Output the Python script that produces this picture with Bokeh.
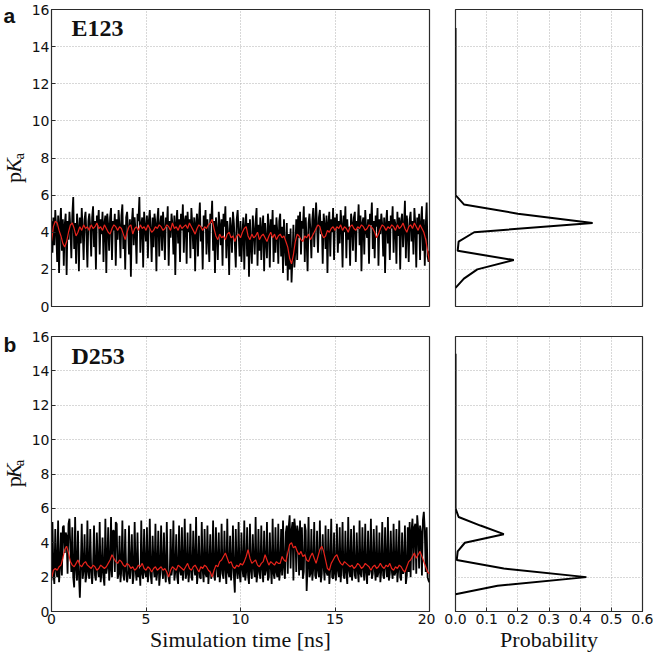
import numpy as np
from bokeh.plotting import figure
from bokeh.models import Range1d, FixedTicker, Label, NumeralTickFormatter
from bokeh.layouts import column, row
from bokeh.embed import file_html
from bokeh.resources import INLINE
from bokeh.core.properties import value

# ---------------- data ----------------
residues = ["E123", "D253"]
panel_letters = ["a", "b"]
time_ticks = [0, 5, 10, 15, 20]
pka_ticks = [0, 2, 4, 6, 8, 10, 12, 14, 16]
prob_ticks = [0.0, 0.1, 0.2, 0.3, 0.4, 0.5, 0.6]

time_step_ns = 0.05  # sampling of the raw pKa trace
e123_pka = [
    4.6, 2.9, 4.8, 3.3, 5.2, 4.1, 2.4, 4.9, 1.8, 4.5, 5.3, 3.0, 4.7, 2.2, 4.4, 5.0, 1.7, 4.6, 3.6, 5.1,
    4.2, 2.6, 4.9, 5.9, 3.1, 4.5, 2.3, 5.0, 4.3, 1.9, 4.8, 3.4, 5.3, 4.1, 2.5, 4.7, 5.1, 3.8, 2.1, 4.6,
    5.0, 4.3, 2.7, 4.8, 5.4, 3.2, 4.6, 2.0, 4.9, 4.4, 5.2, 2.8, 4.7, 3.9, 5.1, 2.4, 4.5, 4.9, 1.8, 5.0,
    4.4, 3.0, 4.8, 5.3, 2.5, 4.6, 4.1, 5.0, 2.2, 4.7, 3.6, 5.2, 4.3, 2.6, 4.9, 5.5, 3.1, 4.4, 2.0, 4.8,
    5.1, 4.2, 2.8, 4.7, 1.6, 4.5, 5.3, 3.3, 4.8, 4.0, 2.3, 5.0, 4.6, 5.9, 2.9, 4.4, 4.8, 2.1, 5.1, 4.3,
    3.5, 4.9, 2.6, 4.6, 5.2, 4.1, 2.4, 4.8, 3.2, 5.0, 4.5, 1.9, 4.7, 5.3, 2.7, 4.4, 4.9, 3.0, 5.1, 4.2,
    2.5, 4.8, 4.3, 5.4, 2.2, 4.6, 3.7, 5.0, 4.4, 2.8, 4.9, 1.7, 4.5, 5.2, 3.4, 4.7, 2.4, 5.0, 4.1, 5.5,
    2.9, 4.6, 4.9, 2.3, 5.1, 4.0, 4.7, 2.6, 5.3, 4.4, 3.1, 4.8, 1.9, 4.5, 5.0, 2.7, 4.6, 5.6, 3.5, 4.3,
    2.0, 4.9, 4.2, 5.2, 2.8, 4.7, 3.8, 2.4, 5.0, 4.5, 5.7, 3.0, 4.6, 1.8, 4.8, 4.1, 2.5, 5.1, 4.4, 3.3,
    4.7, 2.2, 5.0, 4.3, 5.4, 2.6, 4.6, 3.9, 1.7, 4.8, 4.2, 2.9, 5.1, 4.5, 3.4, 2.1, 4.7, 5.2, 4.0, 2.7,
    4.6, 2.4, 3.9, 4.8, 2.0, 4.3, 5.0, 2.7, 4.5, 1.6, 4.7, 3.3, 2.3, 4.9, 4.1, 2.8, 4.6, 5.3, 2.2, 4.4,
    3.0, 4.8, 2.5, 4.2, 4.9, 1.9, 4.5, 3.6, 2.6, 5.0, 4.3, 2.1, 4.7, 3.8, 5.2, 2.4, 4.4, 2.9, 4.8, 4.0,
    2.3, 4.6, 5.0, 2.7, 4.3, 1.8, 4.7, 3.2, 2.2, 4.5, 1.4, 3.9, 2.0, 4.2, 1.3, 2.6, 4.4, 2.1, 3.0, 4.7,
    2.5, 4.9, 3.7, 5.1, 2.8, 4.6, 4.2, 5.4, 2.4, 4.8, 3.5, 1.9, 4.5, 5.0, 4.1, 2.6, 4.7, 5.3, 3.2, 4.4,
    5.6, 4.3, 2.9, 4.8, 5.2, 3.9, 4.6, 2.3, 5.0, 4.4, 3.1, 4.9, 1.8, 4.5, 5.1, 2.7, 4.7, 4.0, 5.3, 2.5,
    4.8, 4.2, 5.0, 2.9, 4.6, 3.4, 5.2, 4.4, 2.1, 4.9, 4.0, 5.4, 2.6, 4.7, 3.6, 4.3, 2.2, 5.0, 4.5, 3.0,
    4.8, 5.1, 2.4, 4.6, 4.2, 5.5, 3.3, 4.9, 1.9, 4.5, 4.8, 2.8, 5.2, 4.1, 3.7, 4.7, 2.3, 5.0, 4.4, 5.6,
    3.1, 4.6, 2.6, 4.9, 4.3, 5.3, 2.2, 4.7, 3.9, 5.0, 4.4, 2.7, 4.8, 1.8, 4.5, 5.2, 3.4, 4.6, 2.5, 4.9,
    4.2, 5.4, 2.9, 4.7, 4.4, 2.3, 5.1, 3.8, 4.8, 2.0, 4.6, 5.0, 3.2, 4.3, 5.7, 2.6, 4.9, 4.1, 2.4, 4.7,
    5.1, 3.5, 4.6, 2.8, 5.3, 4.4, 2.1, 4.8, 3.9, 5.0, 2.5, 4.5, 5.4, 3.0, 4.7, 2.2, 4.3, 5.6, 2.7, 2.4,
    3.0,
]
d253_pka = [
    1.8, 5.2, 2.3, 1.6, 4.8, 2.5, 2.0, 5.3, 1.7, 2.6, 4.6, 2.1, 4.9, 5.0, 3.4, 4.6, 4.4, 2.2, 5.1, 5.4,
    3.6, 2.3, 4.9, 2.0, 1.4, 5.5, 2.5, 1.8, 4.7, 2.2, 0.8, 2.6, 5.1, 1.9, 2.4, 4.5, 1.7, 2.1, 5.3, 2.3,
    1.9, 4.8, 2.4, 1.6, 2.7, 5.0, 2.1, 1.8, 4.6, 2.5, 2.0, 5.2, 1.7, 2.3, 4.3, 2.0, 1.5, 5.4, 2.2, 2.6,
    4.9, 1.8, 2.4, 5.5, 2.0, 4.7, 4.7, 2.3, 5.2, 5.1, 1.9, 2.2, 4.4, 1.7, 2.5, 5.3, 2.1, 1.8, 4.8, 2.4,
    1.7, 2.2, 5.0, 1.9, 2.6, 4.5, 1.6, 2.1, 5.2, 2.4, 1.8, 4.6, 2.0, 2.5, 1.5, 5.3, 2.2, 1.9, 4.8, 2.3,
    2.0, 4.9, 1.7, 2.4, 5.4, 2.1, 1.6, 4.4, 2.6, 2.0, 5.1, 1.8, 2.3, 4.7, 1.5, 2.2, 5.0, 2.5, 1.9, 4.6,
    2.2, 1.7, 5.2, 2.4, 1.9, 1.6, 4.8, 2.1, 2.6, 5.3, 1.8, 2.3, 4.5, 2.0, 1.6, 5.0, 2.4, 2.1, 4.9, 1.8,
    2.5, 5.4, 1.9, 2.2, 4.6, 1.7, 2.4, 5.1, 2.0, 1.8, 4.7, 2.6, 2.1, 5.5, 1.6, 2.3, 4.4, 2.0, 1.9, 5.2,
    2.4, 1.7, 4.8, 2.2, 2.0, 5.0, 1.6, 2.5, 4.5, 1.9, 2.3, 5.3, 2.1, 1.8, 4.9, 2.6, 2.0, 4.6, 1.7, 2.4,
    5.1, 2.2, 1.9, 4.7, 2.5, 1.6, 5.4, 2.3, 2.0, 4.4, 1.8, 2.6, 5.0, 2.1, 1.1, 4.8, 2.4, 1.9, 5.2, 2.2,
    1.7, 4.6, 2.5, 2.0, 5.3, 1.8, 2.3, 4.9, 2.1, 1.6, 5.1, 2.4, 1.9, 4.5, 2.6, 2.0, 5.5, 1.7, 2.2, 4.8,
    2.3, 1.9, 5.0, 2.5, 1.7, 4.7, 2.1, 2.4, 5.2, 1.8, 2.0, 4.6, 2.6, 1.6, 5.4, 2.2, 1.9, 4.9, 2.3, 2.0,
    5.1, 1.8, 2.4, 4.8, 2.1, 5.3, 2.6, 1.9, 4.6, 5.0, 2.2, 4.9, 5.6, 2.5, 4.7, 5.2, 1.8, 5.4, 4.8, 2.3,
    5.0, 4.6, 2.1, 5.3, 2.4, 4.9, 1.9, 2.3, 5.1, 4.7, 1.2, 2.6, 5.5, 2.0, 2.2, 4.8, 1.8, 2.5, 5.2, 2.1,
    1.9, 4.7, 2.4, 2.0, 5.3, 1.7, 2.2, 4.5, 2.6, 1.8, 5.0, 2.3, 2.1, 4.8, 1.6, 2.5, 5.4, 2.0, 1.9, 4.6,
    2.2, 1.8, 5.1, 2.4, 2.0, 4.9, 1.7, 2.6, 5.2, 2.1, 1.9, 4.7, 2.3, 1.6, 5.5, 2.4, 2.0, 4.8, 1.8, 2.5,
    5.0, 2.1, 1.9, 4.6, 2.4, 1.7, 5.3, 2.2, 2.0, 4.9, 2.5, 1.8, 5.1, 2.3, 1.6, 4.7, 2.1, 2.4, 5.4, 1.9,
    2.2, 4.8, 2.5, 1.8, 5.0, 2.0, 2.3, 4.6, 1.7, 2.4, 5.2, 2.1, 1.9, 4.9, 2.6, 2.0, 5.5, 1.8, 2.2, 4.7,
    2.4, 1.9, 5.1, 2.1, 2.3, 4.8, 1.7, 2.5, 5.3, 2.0, 1.8, 4.6, 2.2, 2.4, 5.0, 1.6, 2.1, 4.9, 2.3, 5.2,
    2.0, 4.7, 5.4, 2.4, 4.9, 5.1, 2.2, 5.6, 4.8, 2.5, 5.0, 4.6, 2.1, 5.3, 5.8, 4.7, 2.3, 4.9, 2.0, 1.8,
    1.7,
]

avg_step_ns = 0.1  # sampling of the running average (red)
e123_avg = [
    3.5,
    4.3, 4.6, 4.5, 4.1, 3.8, 3.4, 3.2, 3.5, 4.0, 4.4,
    4.5, 4.2, 3.8, 4.0, 4.3, 4.1, 4.4, 4.2, 4.3, 4.1,
    4.4, 4.2, 4.3, 4.5, 4.2, 4.3, 4.1, 4.4, 4.2, 4.0,
    3.9, 4.2, 4.4, 4.3, 4.1, 4.3, 4.2, 3.9, 3.6, 4.0,
    4.3, 4.4, 3.9, 4.2, 4.3, 4.1, 4.4, 4.2, 4.3, 4.1,
    4.4, 4.2, 4.0, 4.1, 4.3, 4.2, 4.4, 4.3, 4.1, 4.2,
    4.4, 4.3, 4.1, 4.5, 4.2, 4.3, 4.1, 4.4, 4.2, 4.3,
    4.4, 4.2, 4.5, 4.3, 4.1, 3.9, 4.2, 4.4, 4.3, 4.1,
    4.3, 4.2, 4.4, 4.5, 4.7, 4.2, 3.8, 3.6, 3.9, 3.7,
    3.8, 3.6, 3.9, 4.0, 3.7, 3.8, 3.5, 3.8, 3.9, 3.7,
    4.0, 4.2, 4.3, 3.8, 3.6, 3.9, 3.7, 3.8, 4.0, 3.6,
    3.8, 3.9, 3.7, 3.5, 3.8, 4.0, 3.7, 3.9, 3.6, 3.8,
    3.9, 3.7, 3.8, 3.5, 3.2, 2.6, 2.3, 2.8, 3.5, 3.9,
    3.8, 3.6, 3.5, 3.8, 3.7, 3.9, 3.6, 3.8, 4.0, 4.2,
    4.4, 4.3, 3.9, 3.7, 3.8, 4.1, 4.0, 4.2, 4.3, 4.1,
    4.3, 4.2, 4.4, 4.1, 4.3, 4.2, 4.0, 4.3, 4.4, 4.2,
    4.1, 4.3, 4.2, 4.4, 4.3, 4.1, 4.2, 4.4, 4.3, 4.2,
    4.0, 3.7, 3.9, 4.2, 4.4, 4.3, 4.1, 4.3, 4.2, 4.4,
    4.3, 4.1, 4.4, 4.2, 4.3, 4.5, 4.2, 4.0, 4.3, 4.4,
    4.2, 4.5, 4.3, 4.1, 4.4, 4.2, 4.0, 3.6, 3.0, 2.4,
]
d253_avg = [
    1.9,
    2.4, 2.5, 2.4, 2.6, 2.7, 3.1, 3.6, 3.8, 3.4, 2.9,
    2.7, 2.6, 2.8, 3.0, 2.7, 2.6, 2.8, 2.9, 2.7, 2.6,
    2.5, 2.7, 2.6, 2.4, 2.5, 2.7, 2.6, 2.5, 2.6, 2.8,
    3.0, 3.3, 3.1, 2.9, 2.8, 3.0, 2.9, 2.7, 2.6, 2.8,
    2.7, 2.5, 2.6, 2.4, 2.5, 2.7, 2.6, 2.8, 2.5, 2.4,
    2.6, 2.5, 2.3, 2.5, 2.6, 2.4, 2.5, 2.6, 2.4, 2.5,
    2.3, 2.0, 2.4, 2.6, 2.5, 2.4, 2.7, 2.6, 2.5, 2.4,
    2.6, 2.8, 2.5, 2.4, 2.6, 2.7, 2.5, 2.3, 2.6, 2.5,
    2.7, 2.6, 2.4, 2.3, 2.0, 2.4, 2.7, 2.6, 2.9, 3.0,
    3.2, 3.4, 3.1, 2.8, 2.9, 2.6, 2.5, 2.7, 2.6, 2.8,
    2.7, 2.9, 3.2, 3.6, 3.1, 2.8, 2.9, 3.0, 2.7, 2.6,
    2.8, 2.9, 3.3, 3.0, 2.7, 2.9, 2.8, 2.7, 2.9, 2.8,
    2.8, 3.2, 3.0, 2.9, 3.4, 3.9, 4.0, 3.7, 3.8, 3.5,
    3.3, 3.5, 3.2, 3.3, 3.0, 2.9, 3.2, 3.4, 3.1, 2.8,
    3.2, 3.6, 3.8, 3.5, 3.0, 2.5, 2.4, 2.8, 3.0, 3.2,
    3.3, 3.0, 2.8, 2.7, 2.9, 2.8, 2.7, 2.6, 2.7, 2.5,
    2.6, 2.8, 2.7, 2.5, 2.6, 2.8, 2.7, 2.6, 2.4, 2.6,
    2.7, 2.5, 2.6, 2.8, 2.6, 2.5, 2.7, 2.6, 2.8, 2.5,
    2.4, 2.6, 2.5, 2.7, 2.6, 2.4, 2.3, 2.6, 2.9, 3.0,
    3.2, 3.4, 3.1, 3.3, 3.5, 3.2, 2.9, 2.6, 2.3, 2.2,
]

hist_pka = [1.0, 1.5, 2.0, 2.5, 3.0, 3.5, 4.0, 4.5, 5.0, 5.5, 6.0, 15.0]
e123_prob = [0.0, 0.027, 0.07, 0.187, 0.007, 0.01, 0.06, 0.44, 0.2, 0.027, 0.0, 0.0]
d253_prob = [0.0, 0.135, 0.42, 0.155, 0.004, 0.007, 0.03, 0.155, 0.08, 0.01, 0.0, 0.0]

series_raw = [e123_pka, d253_pka]
series_avg = [e123_avg, d253_avg]
series_prob = [e123_prob, d253_prob]

# ---------------- styling / layout ----------------
SANS = "DejaVu Sans"
SERIF = "Liberation Serif"
FRAME = "#2b2b2b"
GRID = "#b0b0b0"
INK = "#111111"

STRIP_W = 28
MAIN_W, HIST_W = 407, 218
MAIN_LEFT, MAIN_RIGHT = 22, 6
HIST_LEFT, HIST_RIGHT = 20, 11
ROW_TOP = [9, 15]
ROW_FRAME_H = [297, 275]
ROW_BOTTOM = [15, 43]
RESIDUE_Y = [14.98, 14.84]          # vertical centre of the residue name (pKa units)
LETTER_DROP = [3.0, 5.0]            # letter centre relative to the frame top (px)


def style_axes(p, show_x, show_y, xticks, yticks):
    p.outline_line_color = FRAME
    p.outline_line_width = 1.2
    p.outline_line_alpha = 1.0
    p.xaxis.ticker = FixedTicker(ticks=xticks)
    p.yaxis.ticker = FixedTicker(ticks=yticks)
    p.xgrid.ticker = FixedTicker(ticks=xticks)
    p.ygrid.ticker = FixedTicker(ticks=yticks)
    for g in (p.xgrid, p.ygrid):
        g.grid_line_color = GRID
        g.grid_line_dash = "1 2"
        g.grid_line_width = 1
    for ax in (p.xaxis, p.yaxis):
        ax.axis_line_color = FRAME
        ax.major_tick_line_color = FRAME
        ax.major_tick_in = 4
        ax.major_tick_out = 0
        ax.minor_tick_in = 0
        ax.minor_tick_out = 0
        ax.major_label_text_font = SANS
        ax.major_label_text_font_size = "14px"
        ax.major_label_text_color = INK
        ax.major_label_standoff = 2
        ax.axis_label_text_font = SERIF
        ax.axis_label_text_font_size = "22px"
        ax.axis_label_text_font_style = "normal"
        ax.axis_label_text_color = INK
        ax.axis_label_standoff = 0
    p.xaxis.visible = show_x
    p.yaxis.visible = show_y


rows = []
for i in range(2):
    fh = ROW_FRAME_H[i]
    H = ROW_TOP[i] + fh + ROW_BOTTOM[i]
    last = i == 1

    # left strip with the panel letter and the rotated y label
    s = figure(width=STRIP_W, height=H, output_backend="svg", toolbar_location=None,
               x_range=Range1d(0, STRIP_W), y_range=Range1d(0, H),
               x_axis_location=None, y_axis_location=None, min_border=0)
    s.outline_line_color = None
    s.grid.visible = False
    s.text(x=[3], y=[H - ROW_TOP[i] + LETTER_DROP[i]], text=[panel_letters[i]],
           text_font=value("Liberation Sans"), text_font_style="bold", text_font_size="21px",
           text_color=INK, text_baseline="middle", text_align="left")
    y_mid = H - ROW_TOP[i] - fh / 2          # frame centre in strip coordinates
    y0 = y_mid - 30
    s.text(x=[12.8], y=[y0], text=["p"], angle=np.pi / 2,
           text_font=value(SERIF), text_font_size="22px", text_color=INK,
           text_baseline="middle", text_align="left")
    s.text(x=[12.8], y=[y0 + 11], text=["K"], angle=np.pi / 2,
           text_font=value(SERIF), text_font_style="italic", text_font_size="22px",
           text_color=INK, text_baseline="middle", text_align="left")
    s.text(x=[18.8], y=[y0 + 25.5], text=["a"], angle=np.pi / 2,
           text_font=value(SERIF), text_font_size="15px", text_color=INK,
           text_baseline="middle", text_align="left")

    # main time-series panel
    p = figure(width=MAIN_W, height=H, output_backend="svg", toolbar_location=None,
               x_range=Range1d(0, 20), y_range=Range1d(0, 16),
               min_border_left=MAIN_LEFT, min_border_right=MAIN_RIGHT,
               min_border_top=ROW_TOP[i], min_border_bottom=ROW_BOTTOM[i])
    style_axes(p, last, True, time_ticks, pka_ticks)
    if last:
        p.xaxis.axis_label = "Simulation time [ns]"
    t_raw = np.arange(len(series_raw[i])) * time_step_ns
    t_avg = np.arange(len(series_avg[i])) * avg_step_ns
    p.line(t_raw, series_raw[i], line_color="black", line_width=1.8)
    p.line(t_avg, series_avg[i], line_color="#e8231b", line_width=1.2)
    p.add_layout(Label(x=1.06, y=RESIDUE_Y[i], text=residues[i],
                       text_font=SERIF, text_font_style="bold", text_font_size="24px",
                       text_color=INK, text_baseline="middle"))

    # probability panel
    h = figure(width=HIST_W, height=H, output_backend="svg", toolbar_location=None,
               x_range=Range1d(0, 0.6), y_range=Range1d(0, 16),
               min_border_left=HIST_LEFT, min_border_right=HIST_RIGHT,
               min_border_top=ROW_TOP[i], min_border_bottom=ROW_BOTTOM[i])
    style_axes(h, last, False, prob_ticks, pka_ticks)
    h.xaxis.formatter = NumeralTickFormatter(format="0.0")
    if last:
        h.xaxis.axis_label = "Probability"
    h.line(series_prob[i], hist_pka, line_color="black", line_width=2)

    rows.append(row(s, p, h))

layout = column(*rows)
open("out.html", "w").write(file_html(layout, INLINE))
